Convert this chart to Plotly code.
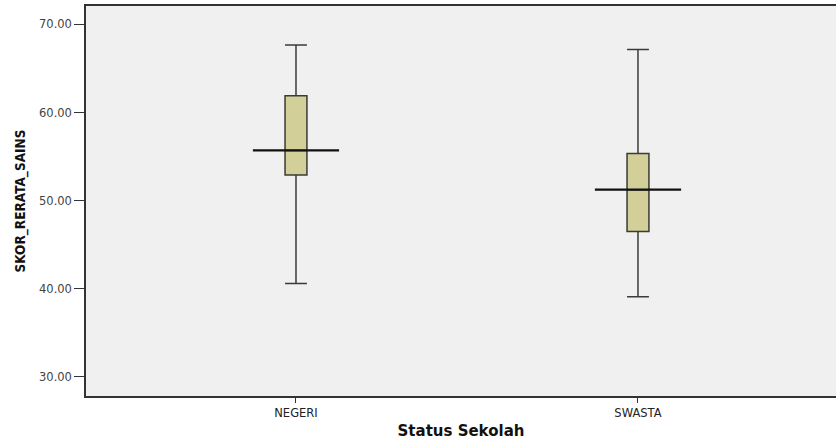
import plotly.graph_objects as go

categories = ["NEGERI", "SWASTA"]
lower_whisker = [40.6, 39.1]
q1_values = [52.9, 46.5]
median_values = [55.7, 51.25]
q3_values = [61.9, 55.35]
upper_whisker = [67.65, 67.15]
y_ticks = [30, 40, 50, 60, 70]

positions = list(range(1, len(categories) + 1))
box_w = 0.064
median_half = 0.126

fig = go.Figure()
fig.add_trace(go.Box(
    x=positions,
    q1=q1_values, median=median_values, q3=q3_values,
    lowerfence=lower_whisker, upperfence=upper_whisker,
    width=box_w, whiskerwidth=1,
    fillcolor="#D3CF98",
    line=dict(color="#3a3a36", width=1.5),
    boxpoints=False, hoverinfo="skip", showlegend=False,
))
for p, m in zip(positions, median_values):
    fig.add_trace(go.Scatter(
        x=[p - median_half, p + median_half], y=[m, m],
        mode="lines", line=dict(color="#111111", width=2.2),
        hoverinfo="skip", showlegend=False,
    ))

fig.update_layout(
    width=836, height=440,
    margin=dict(l=86, r=0, t=6, b=44, autoexpand=False),
    paper_bgcolor="white", plot_bgcolor="#F0F0F0",
    font=dict(family="DejaVu Sans, Liberation Sans, Arial, sans-serif", color="#333333"),
    xaxis=dict(
        range=[0.386, 2.579], tickmode="array", tickvals=positions, ticktext=categories,
        showgrid=False, zeroline=False, showline=True, linecolor="#333333", linewidth=1.5,
        mirror=True, ticks="outside", ticklen=5, tickcolor="#333333", tickwidth=1.2,
        tickfont=dict(size=11.5, color="#222222"), automargin=False,
        title=dict(text="<b>Status Sekolah</b>", font=dict(size=15, color="#111111"), standoff=9),
    ),
    yaxis=dict(
        range=[27.84, 72.08], tickmode="array", tickvals=y_ticks, tickformat=".2f",
        showgrid=False, zeroline=False, showline=True, linecolor="#333333", linewidth=1.5,
        ticks="outside", ticklen=10, tickcolor="#333333", tickwidth=1.2,
        tickfont=dict(size=11.5, color="#444444"), automargin=False,
        title=dict(text="<b>SKOR_RERATA_SAINS</b>",
                   font=dict(size=13.5, color="#111111", family="DejaVu Sans Condensed, Liberation Sans Narrow, Liberation Sans"),
                   standoff=10),
    ),
)

fig.write_html("out.html", config={"displayModeBar": False},
               post_script="document.body.style.margin='0';document.body.style.overflow='hidden';")
